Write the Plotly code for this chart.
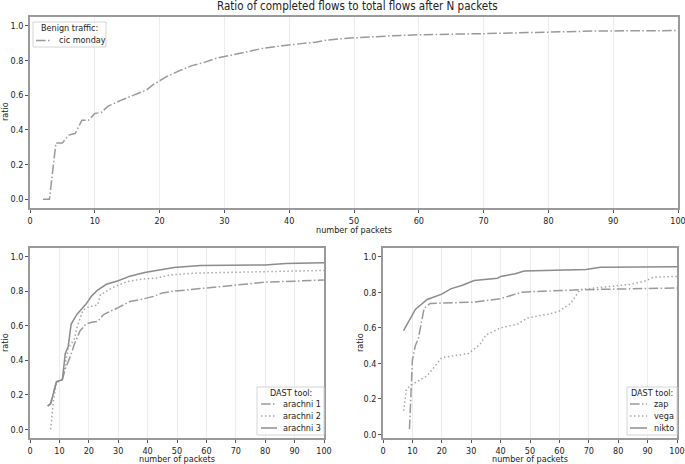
import plotly.graph_objects as go

# ---------------- data ----------------
cic_x = [2, 3, 4, 5, 6, 7, 8, 9, 10, 11, 12, 14, 16, 18, 19, 21, 23, 25, 27, 29, 31, 34, 36, 39, 42, 44, 46, 49, 55, 60, 70, 79, 87, 100]
cic_y = [0.0, 0.0, 0.325, 0.325, 0.37, 0.38, 0.455, 0.455, 0.495, 0.50, 0.535, 0.57, 0.60, 0.63, 0.66, 0.705, 0.74, 0.77, 0.79, 0.815, 0.83, 0.855, 0.87, 0.885, 0.895, 0.905, 0.918, 0.928, 0.94, 0.948, 0.954, 0.962, 0.969, 0.972]

ar1_x = [6, 7, 9, 11, 12, 14, 15, 17, 19, 21, 23, 25, 30, 34, 39, 42, 45, 49, 58, 70, 80, 90, 100]
ar1_y = [0.135, 0.15, 0.275, 0.287, 0.35, 0.435, 0.49, 0.57, 0.61, 0.62, 0.625, 0.665, 0.705, 0.74, 0.757, 0.77, 0.79, 0.80, 0.815, 0.835, 0.852, 0.858, 0.865]

ar2_x = [7, 8, 9, 11, 13, 15, 16, 18, 20, 23, 24, 28, 33, 38, 43, 48, 57, 70, 100]
ar2_y = [0.0, 0.17, 0.27, 0.287, 0.47, 0.52, 0.59, 0.69, 0.71, 0.72, 0.78, 0.82, 0.855, 0.87, 0.876, 0.895, 0.905, 0.91, 0.92]

ar3_x = [6, 7, 9, 11, 12, 13, 14, 16, 18, 19, 21, 23, 26, 30, 34, 39, 49, 58, 80, 87, 100]
ar3_y = [0.135, 0.146, 0.277, 0.287, 0.44, 0.48, 0.61, 0.667, 0.705, 0.724, 0.773, 0.806, 0.84, 0.86, 0.887, 0.908, 0.937, 0.948, 0.952, 0.96, 0.965]

zap_x = [9, 10, 11, 12, 14, 16, 31, 40, 47, 52, 67, 100]
zap_y = [0.03, 0.42, 0.50, 0.54, 0.71, 0.738, 0.745, 0.765, 0.80, 0.805, 0.815, 0.825]

vega_x = [7, 8, 10, 15, 20, 25, 29, 33, 35, 40, 46, 49, 57, 60, 64, 67, 84, 89, 92, 100]
vega_y = [0.133, 0.255, 0.283, 0.33, 0.433, 0.445, 0.455, 0.507, 0.56, 0.60, 0.623, 0.655, 0.68, 0.695, 0.74, 0.816, 0.845, 0.863, 0.886, 0.89]

nikto_x = [7, 11, 15, 20, 23, 27, 31, 35, 39, 40, 45, 48, 57, 69, 74, 100]
nikto_y = [0.585, 0.704, 0.76, 0.79, 0.82, 0.84, 0.867, 0.875, 0.88, 0.89, 0.905, 0.92, 0.925, 0.929, 0.942, 0.945]

x_ticks = [0, 10, 20, 30, 40, 50, 60, 70, 80, 90, 100]
y_ticks = [0.0, 0.2, 0.4, 0.6, 0.8, 1.0]

TITLE = "Ratio of completed flows to total flows after N packets"
XLABEL = "number of packets"
YLABEL = "ratio"
LEG_TOP_TITLE = "Benign traffic:"
LEG_DAST_TITLE = "DAST tool:"

# ---------------- styles ----------------
W, H = 685, 464
FONT = "DejaVu Sans Condensed, Liberation Sans Narrow, DejaVu Sans, sans-serif"
DASHDOT = "9.6px,2.4px,1.5px,2.4px"
DOTTED = "1.5px,2.5px"
C_DD = "#9a9a9a"
C_DOT = "#a8a8a8"
C_SOLID = "#8c8c8c"
TXT = "#222"


def px_x(p):
    return p / W


def px_y(p):
    return 1 - p / H


fig = go.Figure()

def add(x, y, name, dash, color, xa, ya):
    fig.add_trace(go.Scatter(x=x, y=y, name=name, mode="lines",
                             line=dict(color=color, width=1.5, dash=dash),
                             xaxis=xa, yaxis=ya, showlegend=False))

series = [
    (cic_x, cic_y, "cic monday", DASHDOT, C_DD, "x", "y"),
    (ar1_x, ar1_y, "arachni 1", DASHDOT, C_DD, "x2", "y2"),
    (ar2_x, ar2_y, "arachni 2", DOTTED, C_DOT, "x2", "y2"),
    (ar3_x, ar3_y, "arachni 3", "solid", C_SOLID, "x2", "y2"),
    (zap_x, zap_y, "zap", DASHDOT, C_DD, "x3", "y3"),
    (vega_x, vega_y, "vega", DOTTED, C_DOT, "x3", "y3"),
    (nikto_x, nikto_y, "nikto", "solid", C_SOLID, "x3", "y3"),
]
for s in series:
    add(*s)

axis_common = dict(showline=True, mirror=True, linecolor="#9a9a9a", linewidth=1.5,
                   ticks="outside", ticklen=3, tickcolor="#555", tickwidth=1,
                   automargin=False, ticklabeloverflow="allow",
                   zeroline=False, tickfont=dict(size=9, color=TXT, family=FONT))

xcommon = dict(axis_common, range=[0, 100], tickvals=x_ticks, showgrid=True,
               gridcolor="#ececec", gridwidth=1)
ycommon = dict(axis_common, tickvals=y_ticks, tickformat=".1f", showgrid=False)

fig.update_layout(
    width=W, height=H,
    margin=dict(l=0, r=0, t=0, b=0, autoexpand=False),
    paper_bgcolor="white", plot_bgcolor="white",
    font=dict(family=FONT, size=9, color=TXT),
    xaxis=dict(xcommon, domain=[px_x(30), px_x(678)], anchor="y"),
    yaxis=dict(ycommon, domain=[px_y(208), px_y(17)], range=[-0.05, 1.05], anchor="x"),
    xaxis2=dict(xcommon, domain=[px_x(30), px_x(324)], anchor="y2"),
    yaxis2=dict(ycommon, domain=[px_y(438), px_y(248)], range=[-0.05, 1.05], anchor="x2"),
    xaxis3=dict(xcommon, domain=[px_x(383), px_x(677)], anchor="y3"),
    yaxis3=dict(ycommon, domain=[px_y(438), px_y(248)], range=[-0.02, 1.05], anchor="x3"),
    showlegend=False,
)

# ---------------- annotations (titles / axis labels) ----------------
ann = []
ann.append(dict(text=TITLE, x=px_x(357), y=px_y(6), font=dict(size=11.5, family=FONT, color=TXT)))
ann.append(dict(text=XLABEL, x=px_x(354), y=px_y(230.5)))
ann.append(dict(text=XLABEL, x=px_x(177), y=px_y(459)))
ann.append(dict(text=XLABEL, x=px_x(530), y=px_y(459)))
ann.append(dict(text=YLABEL, x=px_x(5), y=px_y(112), textangle=-90))
ann.append(dict(text=YLABEL, x=px_x(5), y=px_y(343), textangle=-90))
ann.append(dict(text=YLABEL, x=px_x(360), y=px_y(343), textangle=-90))
for a in ann:
    a.setdefault("font", dict(size=9, family=FONT, color=TXT))
    fig.add_annotation(xref="paper", yref="paper", showarrow=False,
                       xanchor="center", yanchor="middle", **a)

# ---------------- compact legends (matplotlib-like) ----------------
def legend_box(box, title, title_y, entries, entry_ys, sx0, sx1, lx):
    x0, y0, x1, y1 = box
    fig.add_shape(type="rect", xref="paper", yref="paper",
                  x0=px_x(x0), x1=px_x(x1), y0=px_y(y1), y1=px_y(y0),
                  line=dict(color="#d4d4d4", width=1), fillcolor="rgba(255,255,255,0.8)")
    fig.add_annotation(xref="paper", yref="paper", showarrow=False,
                       x=px_x((x0 + x1) / 2), y=px_y(title_y), text=title,
                       xanchor="center", yanchor="middle",
                       font=dict(size=9, family=FONT, color=TXT))
    for (name, dash, color), ey in zip(entries, entry_ys):
        fig.add_shape(type="line", xref="paper", yref="paper",
                      x0=px_x(sx0), x1=px_x(sx1), y0=px_y(ey), y1=px_y(ey),
                      line=dict(color=color, width=1.5, dash=dash))
        fig.add_annotation(xref="paper", yref="paper", showarrow=False,
                           x=px_x(lx), y=px_y(ey), text=name,
                           xanchor="left", yanchor="middle",
                           font=dict(size=9, family=FONT, color=TXT))

legend_box((33, 22, 106, 47), LEG_TOP_TITLE, 28.5,
           [(s[2], s[3], s[4]) for s in series[0:1]], [40.5], 36, 52, 57)
legend_box((257, 387, 324, 435), LEG_DAST_TITLE, 393,
           [(s[2], s[3], s[4]) for s in series[1:4]], [404, 416, 428], 261, 277, 281)
legend_box((627, 387, 677, 435), LEG_DAST_TITLE, 393,
           [(s[2], s[3], s[4]) for s in series[4:7]], [404, 416, 428], 630, 647, 652)

fig.write_html("out.html", config={"displayModeBar": False},
               post_script="document.body.style.margin='0';document.body.style.overflow='hidden';")
